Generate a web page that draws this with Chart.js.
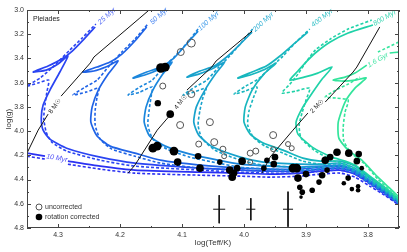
<!DOCTYPE html>
<html><head><meta charset="utf-8">
<script src="https://cdn.jsdelivr.net/npm/chart.js@4.4.0/dist/chart.umd.min.js"></script>
<style>html,body{margin:0;padding:0;background:#fff;}#wrap{width:407px;height:252px;}</style>
</head><body><div id="wrap"><canvas id="c"></canvas></div>
<script>
// ---- axes ----
const xTicks = [4.3, 4.2, 4.1, 4.0, 3.9, 3.8];
const yTicks = [3.0, 3.2, 3.4, 3.6, 3.8, 4.0, 4.2, 4.4, 4.6, 4.8];

// ---- isochrones [logTeff, logg]; S = solid, D = dashed ----
const iso10S = [[4.350,4.182],[4.321,4.207],[4.30,null],[4.284,4.248],[4.232,4.289],[4.176,4.322],[4.071,4.339],[4.006,4.347],[3.958,4.355],[3.910,4.347],[3.877,4.331],[3.845,4.322],[3.821,4.355],[3.797,4.430],[3.773,4.512],[3.750,4.595]];
const iso10D = [[4.350,4.207],[4.321,4.231],[4.30,null],[4.284,4.273],[4.232,4.314],[4.176,4.347],[4.071,4.364],[4.006,4.372],[3.958,4.380],[3.910,4.372],[3.877,4.355],[3.845,4.347],[3.821,4.380],[3.797,4.455],[3.773,4.529],[3.750,4.612]];
const iso25S = [[3.750,4.587],[3.773,4.504],[3.797,4.421],[3.821,4.339],[3.845,4.306],[3.877,4.314],[3.910,4.331],[3.958,4.331],[4.006,4.322],[4.071,4.306],[4.176,4.264],[4.232,4.215],[4.286,4.141],[4.313,4.066],[4.324,3.992],[4.327,3.893],[4.324,3.785],[4.313,3.661],[4.297,3.512],[4.284,3.380],[4.300,3.446],[4.319,3.496],[4.340,3.512],[4.316,3.463],[4.294,3.405],[4.277,3.339],[4.258,3.240],[4.240,3.140]];
const iso25D = [[3.750,4.603],[3.773,4.521],[3.797,4.438],[3.821,4.355],[3.845,4.322],[3.877,4.331],[3.910,4.347],[3.958,4.347],[4.006,4.339],[4.071,4.322],[4.176,4.289],[4.232,4.240],[4.286,4.165],[4.310,4.091],[4.319,4.008],[4.323,3.893],[4.321,3.785],[4.318,3.678],[4.315,3.579],[4.332,3.603],[4.350,3.628],[4.329,3.562],[4.310,3.479],[4.297,3.413],[4.281,3.331],[4.261,3.231],[4.239,3.116]];
const iso50S = [[3.750,4.587],[3.773,4.496],[3.797,4.413],[3.821,4.331],[3.845,4.289],[3.877,4.298],[3.910,4.314],[3.958,4.314],[4.006,4.306],[4.071,4.281],[4.135,4.240],[4.176,4.182],[4.216,4.124],[4.237,4.041],[4.247,3.926],[4.245,3.802],[4.235,3.661],[4.219,3.529],[4.203,3.421],[4.223,3.471],[4.242,3.504],[4.260,3.512],[4.237,3.471],[4.216,3.430],[4.197,3.364],[4.176,3.256],[4.157,3.140]];
const iso50D = [[3.750,4.603],[3.773,4.512],[3.797,4.430],[3.821,4.347],[3.845,4.306],[3.877,4.314],[3.910,4.331],[3.958,4.331],[4.006,4.322],[4.071,4.306],[4.135,4.264],[4.176,4.207],[4.213,4.149],[4.232,4.066],[4.240,3.950],[4.240,3.826],[4.237,3.719],[4.234,3.645],[4.255,3.678],[4.276,3.702],[4.256,3.636],[4.237,3.579],[4.219,3.471],[4.197,3.347],[4.176,3.240],[4.155,3.116]];
const iso100S = [[3.750,4.579],[3.773,4.488],[3.797,4.405],[3.821,4.322],[3.845,4.281],[3.877,4.289],[3.910,4.298],[3.958,4.289],[4.006,4.273],[4.042,4.240],[4.087,4.190],[4.127,4.124],[4.152,4.041],[4.161,3.926],[4.158,3.802],[4.147,3.661],[4.131,3.529],[4.116,3.430],[4.139,3.496],[4.160,3.537],[4.179,3.562],[4.157,3.512],[4.134,3.471],[4.113,3.397],[4.094,3.289],[4.074,3.174]];
const iso100D = [[3.750,4.595],[3.773,4.512],[3.797,4.430],[3.821,4.347],[3.845,4.306],[3.877,4.314],[3.910,4.322],[3.958,4.314],[4.006,4.298],[4.042,4.264],[4.087,4.215],[4.124,4.149],[4.147,4.066],[4.155,3.950],[4.153,3.826],[4.150,3.719],[4.148,3.636],[4.168,3.678],[4.187,3.702],[4.168,3.636],[4.148,3.579],[4.131,3.479],[4.111,3.380],[4.092,3.273],[4.073,3.149]];
const iso200S = [[3.750,4.579],[3.773,4.479],[3.797,4.388],[3.821,4.306],[3.845,4.264],[3.877,4.273],[3.910,4.273],[3.969,4.256],[4.006,4.215],[4.050,4.132],[4.073,4.033],[4.081,3.926],[4.077,3.802],[4.063,3.661],[4.045,3.521],[4.031,3.430],[4.052,3.488],[4.073,3.529],[4.092,3.554],[4.071,3.504],[4.048,3.463],[4.026,3.380],[4.006,3.281],[3.987,3.182]];
const iso200D = [[3.750,4.595],[3.773,4.496],[3.797,4.413],[3.821,4.331],[3.845,4.289],[3.877,4.298],[3.910,4.298],[3.969,4.281],[4.006,4.240],[4.047,4.157],[4.068,4.058],[4.074,3.950],[4.071,3.826],[4.066,3.719],[4.061,3.645],[4.081,3.678],[4.098,3.702],[4.079,3.636],[4.060,3.579],[4.042,3.479],[4.023,3.380],[4.005,3.273],[3.986,3.157]];
const iso400S = [[3.750,4.570],[3.773,4.471],[3.797,4.380],[3.821,4.289],[3.845,4.248],[3.877,4.248],[3.905,4.223],[3.937,4.157],[3.969,4.099],[3.990,4.025],[4.000,3.926],[3.998,3.802],[3.987,3.661],[3.968,3.529],[3.948,3.438],[3.969,3.496],[3.990,3.537],[4.010,3.562],[3.987,3.512],[3.964,3.463],[3.942,3.380],[3.918,3.273],[3.897,3.182]];
const iso400D = [[3.750,4.587],[3.773,4.488],[3.797,4.405],[3.821,4.314],[3.845,4.273],[3.877,4.273],[3.905,4.248],[3.937,4.182],[3.966,4.124],[3.985,4.050],[3.994,3.950],[3.992,3.835],[3.985,3.727],[3.979,3.636],[3.998,3.669],[4.016,3.694],[3.997,3.628],[3.977,3.570],[3.958,3.479],[3.937,3.380],[3.916,3.264],[3.894,3.157]];
const iso800S = [[3.750,4.562],[3.773,4.463],[3.797,4.372],[3.818,4.289],[3.837,4.248],[3.858,4.215],[3.890,4.132],[3.913,4.025],[3.916,3.926],[3.906,3.810],[3.890,3.686],[3.874,3.570],[3.858,3.471],[3.881,3.521],[3.903,3.554],[3.926,3.579],[3.913,3.504],[3.900,3.430],[3.885,3.355],[3.861,3.264],[3.832,3.190],[3.792,3.124]];
const iso800D = [[3.750,4.579],[3.773,4.479],[3.797,4.388],[3.818,4.314],[3.837,4.273],[3.858,4.240],[3.887,4.157],[3.908,4.058],[3.911,3.950],[3.906,3.843],[3.900,3.744],[3.894,3.645],[3.916,3.669],[3.939,3.686],[3.926,3.612],[3.913,3.529],[3.900,3.430],[3.885,3.331],[3.861,3.240],[3.832,3.157],[3.794,3.083]];
const iso1600S = [[3.750,4.545],[3.765,4.471],[3.784,4.380],[3.810,4.240],[3.832,4.157],[3.847,4.058],[3.848,3.926],[3.837,3.760],[3.821,3.645],[3.803,3.562],[3.821,3.579],[3.839,3.587],[3.856,3.579],[3.837,3.554],[3.821,3.521],[3.802,3.455],[3.790,null],[3.765,3.355],[3.750,3.347]];
const iso1600D = [[3.750,4.562],[3.765,4.488],[3.784,4.397],[3.807,4.264],[3.827,4.182],[3.839,4.083],[3.840,3.967],[3.837,3.843],[3.832,3.744],[3.852,3.727],[3.869,3.719],[3.852,3.661],[3.832,3.612],[3.813,3.554],[3.800,null],[3.784,3.347],[3.750,3.264]];

// ---- evolutionary tracks (8, 4, 2 Msun) ----
const track8 = [[4.350,4.182],[4.332,3.992],[4.316,3.860],[4.31,null],[4.295,3.711],[4.248,3.438],[4.242,3.388],[4.168,3.066],[4.153,3.000]];
const track4 = [[4.187,4.347],[4.176,4.281],[4.140,3.992],[4.115,3.843],[4.10,null],[4.092,3.661],[4.052,3.471],[4.045,3.421],[3.987,3.174]];
const track2 = [[3.971,4.347],[3.958,4.215],[3.921,3.992],[3.897,3.851],[3.89,null],[3.869,3.760],[3.824,3.512],[3.818,3.471],[3.781,3.140]];

// ---- stars ----
const openT = [4.085,4.102,4.131,4.085,4.103,4.055,4.073,4.048,4.034,4.032,3.990,3.981,3.990,3.953,3.953,3.929,3.923];
const openG = [3.273,3.347,3.628,3.694,3.950,3.926,4.107,4.091,4.149,4.207,4.182,4.165,4.256,4.033,4.149,4.107,4.141];
const openSize = [4,3.5,3,3.5,3.5,3.5,3,3.5,3,2.5,3,3,2.5,3.5,2.5,2.5,2.5];
const filledT = [4.134,4.127,4.139,4.119,4.147,4.140,4.113,4.107,4.074,4.071,4.039,4.003,4.023,4.016,4.019,4.011,3.963,3.968,3.950,3.952,3.921,3.915,3.913,3.900,3.910,3.906,3.908,3.890,3.879,3.874,3.869,3.866,3.861,3.850,3.831,3.815,3.818,3.810,3.832,3.839,3.826,3.816,3.816];
const filledG = [3.479,3.471,3.769,3.860,4.141,4.124,4.165,4.256,4.207,4.306,4.256,4.248,4.322,4.347,4.380,4.306,4.240,4.306,4.215,4.273,4.306,4.306,4.388,4.355,4.463,4.504,4.545,4.488,4.421,4.364,4.240,4.322,4.215,4.174,4.182,4.190,4.248,4.306,4.388,4.430,4.479,4.455,4.488];
const filledSize = [4.8,4.4,3.2,3.8,4.4,4.4,4.4,3.8,3.3,3.8,2.8,3.8,3.8,3.3,3.8,3.3,2.8,2.8,3.3,3.3,4.4,4.4,3.8,3.3,2.8,2.8,1.8,2.8,2.8,3.3,3.8,2.8,3.3,3.8,3.8,3.3,3.3,2.3,2.8,2.3,2.3,2.3,2.3];

// ---- typical error bars ----
const errT = [4.040, 3.989, 3.929];
const errG = [4.645, 4.645, 4.645];
const errDT = [0.0097, 0.0073, 0.0081];
const errDG = [0.116, 0.091, 0.145];

// ---- annotations ----
const ageLabels = ['10 Myr','25 Myr','50 Myr','100 Myr','200 Myr','400 Myr','800 Myr','1.6 Gyr'];
const ageLabelAt = [[4.302,4.223],[4.221,3.050],[4.137,3.050],[4.057,3.091],[3.969,3.099],[3.874,3.066],[3.773,3.066],[3.784,3.413]];
const ageLabelRot = [10,-42,-42,-42,-42,-38,-30,-30];
const massLabels = ['8 M\u2609','4 M\u2609','2 M\u2609'];
const massLabelAt = [[4.305,3.794],[4.102,3.760],[3.882,3.794]];
const massLabelRot = [-55,-52,-45];

const FONT = '"Liberation Sans", Arial, Helvetica, sans-serif';
const isoColors = ['#2a30f2','#2a44f2','#1f63e6','#1b86dc','#18a2cc','#17b6be','#1fd2a8','#33e59c'];
const labelColors = ['#4a4af5','#5a70f5','#3f7ff0','#3a98e8','#33b0d5','#30bfc5','#35d5b0','#45e5a5'];
const isoSolid = [iso10S, iso25S, iso50S, iso100S, iso200S, iso400S, iso800S, iso1600S];
const isoDashed = [iso10D, iso25D, iso50D, iso100D, iso200D, iso400D, iso800D, iso1600D];

const toXY = arr => arr.map(p => ({x: p[0], y: p[1]}));
const lineDs = (arr, color, width, dash) => ({
  data: toXY(arr), showLine: true, borderColor: color, borderWidth: width,
  borderDash: dash, pointRadius: 0, tension: 0.2, fill: false, spanGaps: false
});

const datasets = [];
datasets.push({ data: filledT.map((t,i)=>({x:t,y:filledG[i]})), pointRadius: filledSize, pointHoverRadius: filledSize,
  backgroundColor:'#000', borderColor:'#000', borderWidth:0, showLine:false });
datasets.push({ data: openT.map((t,i)=>({x:t,y:openG[i]})), pointRadius: openSize, pointHoverRadius: openSize,
  backgroundColor:'rgba(0,0,0,0)', borderColor:'#555', borderWidth:1, showLine:false });
const errData = [];
errT.forEach((t,i)=>{
  errData.push({x:t-errDT[i],y:errG[i]},{x:t+errDT[i],y:errG[i]},{x:t,y:null},
               {x:t,y:errG[i]-errDG[i]},{x:t,y:errG[i]+errDG[i]},{x:t,y:null});
});
datasets.push({ data: errData, showLine:true, borderColor:'#111', borderWidth:1, pointRadius:0, tension:0, spanGaps:false });
[track8, track4, track2].forEach(tr => { const d = lineDs(tr, '#111', 1, []); d.tension = 0; datasets.push(d); });
for (let i = isoSolid.length-1; i >= 0; i--) {
  datasets.push(lineDs(isoSolid[i], isoColors[i], 1.7, []));
  datasets.push(lineDs(isoDashed[i], isoColors[i], 1.6, [3,2]));
}

const decor = {
  id: 'decor',
  beforeDraw(chart) {
    const c = chart.ctx; c.save(); c.fillStyle = '#fff'; c.fillRect(0,0,chart.width,chart.height); c.restore();
  },
  afterDatasetsDraw(chart) {
    const c = chart.ctx, a = chart.chartArea, sx = chart.scales.x, sy = chart.scales.y;
    c.save();
    const txt = (s, t, g, rot, color, font) => {
      c.save();
      c.translate(sx.getPixelForValue(t), sy.getPixelForValue(g));
      c.rotate(rot*Math.PI/180);
      c.font = font; c.fillStyle = color; c.textAlign = 'center'; c.textBaseline = 'middle';
      c.fillText(s, 0, 0);
      c.restore();
    };
    ageLabels.forEach((s,i)=>txt(s, ageLabelAt[i][0], ageLabelAt[i][1], ageLabelRot[i], labelColors[i], 'italic 7px '+FONT));
    massLabels.forEach((s,i)=>txt(s, massLabelAt[i][0], massLabelAt[i][1], massLabelRot[i], '#222', '6.5px '+FONT));
    // frame
    c.strokeStyle = '#444'; c.lineWidth = 1;
    c.strokeRect(a.left+0.5, a.top+0.5, a.right-a.left-1, a.bottom-a.top-1);
    const seg = (x1,y1,x2,y2)=>{ c.beginPath(); c.moveTo(x1,y1); c.lineTo(x2,y2); c.stroke(); };
    for (let k=0;k<=12;k++){
      const v = 3.75+0.05*k; const px = Math.round(sx.getPixelForValue(v))+0.5;
      const major = Math.abs(Math.round(v*10)-v*10) < 1e-6; const L = major?4:2;
      seg(px,a.bottom,px,a.bottom-L); seg(px,a.top,px,a.top+L);
    }
    for (let k=0;k<=18;k++){
      const v = 3.0+0.1*k; const py = Math.round(sy.getPixelForValue(v))+0.5;
      const L = (k%2===0)?4:2;
      seg(a.left,py,a.left+L,py); seg(a.right,py,a.right-L,py);
    }
    // Pleiades
    c.font = '7px '+FONT; c.fillStyle = '#222'; c.textAlign='left'; c.textBaseline='middle';
    c.fillText('Pleiades', a.left+6, a.top+9);
    // legend
    c.strokeStyle = '#555'; c.lineWidth = 1;
    c.beginPath(); c.arc(a.left+12, a.bottom-21, 3, 0, Math.PI*2); c.stroke();
    c.fillStyle = '#000';
    c.beginPath(); c.arc(a.left+12, a.bottom-11, 3.3, 0, Math.PI*2); c.fill();
    c.fillStyle = '#333';
    c.fillText('uncorrected', a.left+18, a.bottom-21);
    c.fillText('rotation corrected', a.left+18, a.bottom-11);
    c.restore();
  }
};

new Chart(document.getElementById('c'), {
  type: 'scatter',
  data: { datasets },
  options: {
    responsive: true, maintainAspectRatio: false, animation: false, devicePixelRatio: 1,
    layout: { padding: { top: 10, right: 8, bottom: 0, left: 0 } },
    plugins: { legend: { display: false }, tooltip: { enabled: false } },
    scales: {
      x: {
        type: 'linear', min: 3.75, max: 4.35, reverse: true,
        afterBuildTicks: s => { s.ticks = xTicks.map(v => ({value: v})); },
        afterFit: s => { s.height = 24; },
        ticks: { callback: v => Number(v).toFixed(1), font: {family: FONT, size: 7}, color: '#333', autoSkip: false, maxRotation: 0, padding: 3 },
        grid: { display: false, drawTicks: false }, border: { display: false },
        title: { display: true, text: 'log(Teff/K)', font: {family: FONT, size: 8}, color: '#333', padding: {top: 0, bottom: 4} }
      },
      y: {
        type: 'linear', min: 3.0, max: 4.8, reverse: true,
        afterBuildTicks: s => { s.ticks = yTicks.map(v => ({value: v})); },
        afterFit: s => { s.width = 27; },
        ticks: { callback: v => Number(v).toFixed(1), font: {family: FONT, size: 7}, color: '#333', autoSkip: false, padding: 3 },
        grid: { display: false, drawTicks: false }, border: { display: false },
        title: { display: true, text: 'log(g)', font: {family: FONT, size: 8}, color: '#333', padding: {top: 4, bottom: 0} }
      }
    }
  },
  plugins: [decor]
});
</script></body></html>
